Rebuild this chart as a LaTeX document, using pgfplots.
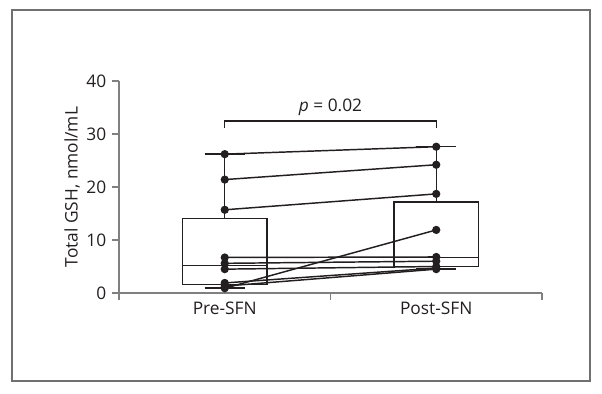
\documentclass[border=0pt]{standalone}
\usepackage{pgfplots}
\pgfplotsset{compat=1.18}
\usepgfplotslibrary{statistics}
\usepackage{fontspec}
\setmainfont{Open Sans}
\definecolor{ink}{HTML}{231F20}
\definecolor{axgray}{HTML}{808080}
\definecolor{framegray}{HTML}{707070}
\begin{document}
\begin{tikzpicture}
\fontsize{13}{15}\selectfont
\path[use as bounding box] (0,0) rectangle (451.5pt,294.75pt);
\draw[framegray, line width=1.1pt] (9pt,9pt) rectangle (442.5pt,287.25pt);
\begin{axis}[
  at={(89.25pt,75pt)}, anchor=south west,
  scale only axis, width=317.25pt, height=159pt,
  xmin=0, xmax=2, ymin=0, ymax=40,
  axis x line*=bottom, axis y line*=left,
  axis line style={axgray, line width=1.1pt, -},
  every tick/.style={axgray, line width=1.1pt},
  tick align=outside, major tick length=5pt,
  xtick={0,1,2}, xticklabels={},
  extra x ticks={0.5,1.5}, extra x tick labels={Pre-SFN,Post-SFN},
  extra x tick style={major tick length=0pt, tick label style={yshift=-2pt}},
  ytick={0,10,20,30,40},
  /pgf/number format/assume math mode=true,
  tick label style={font=\fontsize{13}{15}\selectfont, text=ink},
  ylabel={Total GSH, nmol/mL},
  ylabel style={font=\fontsize{13}{15}\selectfont, text=ink, yshift=-4pt},
  boxplot/draw direction=y,
  boxplot/every box/.style={draw=ink, line width=1.1pt, solid},
  boxplot/every whisker/.style={draw=ink, line width=1.1pt, solid},
  boxplot/every median/.style={draw=ink, line width=1.1pt, solid},
  clip=false,
]
\addplot[boxplot prepared={lower whisker=0.9, lower quartile=1.6, median=5.2,
  upper quartile=14.1, upper whisker=26.2, draw position=0.5,
  box extend=0.4, whisker extend=0.19}, draw=ink, line width=1.1pt, solid, mark=none]
  coordinates {};
\addplot[boxplot prepared={lower whisker=4.5, lower quartile=5.0, median=6.7,
  upper quartile=17.2, upper whisker=27.6, draw position=1.5,
  box extend=0.4, whisker extend=0.19}, draw=ink, line width=1.1pt, solid, mark=none]
  coordinates {};
\pgfplotsset{pairline/.style={ink, line width=1.1pt, solid, mark=*, mark size=2.5pt,
  mark options={fill=ink, draw=ink}}}
\addplot[pairline] coordinates {(0.5,26.2) (1.5,27.6)};
\addplot[pairline] coordinates {(0.5,21.4) (1.5,24.2)};
\addplot[pairline] coordinates {(0.5,15.7) (1.5,18.7)};
\addplot[pairline] coordinates {(0.5,6.7) (1.5,6.8)};
\addplot[pairline] coordinates {(0.5,5.6) (1.5,6.0)};
\addplot[pairline] coordinates {(0.5,4.5) (1.5,5.0)};
\addplot[pairline] coordinates {(0.5,1.9) (1.5,4.7)};
\addplot[pairline] coordinates {(0.5,1.3) (1.5,4.5)};
\addplot[pairline] coordinates {(0.5,0.9) (1.5,11.9)};
\draw[ink, line width=1.1pt] (axis cs:0.5,31.2) -- (axis cs:0.5,32.45) -- (axis cs:1.5,32.45) -- (axis cs:1.5,31.2);
\node[text=ink, font=\fontsize{13}{15}\selectfont] at (axis cs:1,35.1) {\textit{p} = 0.02};
\end{axis}
\end{tikzpicture}
\end{document}
